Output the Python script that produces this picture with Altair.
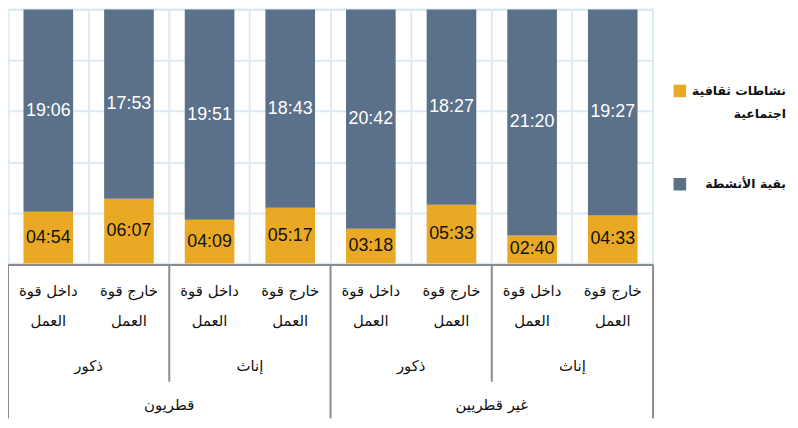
import altair as alt
import pandas as pd

# ---------------- data ----------------
nationality = ["قطريون", "غير قطريين"]
sexes = ["ذكور", "إناث"]
status = ["داخل قوة العمل", "خارج قوة العمل"]
status_lines = ["داخل قوة\nالعمل", "خارج قوة\nالعمل"]

series = ["نشاطات ثقافية اجتماعية", "بقية الأنشطة"]
legend_lines = ["نشاطات ثقافية\nاجتماعية", "بقية الأنشطة"]
colors = ["#E9A924", "#5B7089"]
text_colors = ["#111111", "#FFFFFF"]

cultural = ["04:54", "06:07", "04:09", "05:17", "03:18", "05:33", "02:40", "04:33"]
rest = ["19:06", "17:53", "19:51", "18:43", "20:42", "18:27", "21:20", "19:27"]

grid_values = [0, 288, 576, 864, 1152, 1440]


def to_min(s):
    h, m = s.split(":")
    return int(h) * 60 + int(m)


# ---------------- tables ----------------
cats, cat_nat, cat_sex, cat_status = [], [], [], []
for n in nationality:
    for s in sexes:
        for k, st in enumerate(status):
            cats.append(f"{n}|{s}|{st}")
            cat_nat.append(n)
            cat_sex.append(s)
            cat_status.append(status_lines[k])

rows = []
for i, c in enumerate(cats):
    for j, vals in enumerate([cultural, rest]):
        rows.append({"cat": c, "series": series[j], "order": j,
                     "minutes": to_min(vals[i]), "label": vals[i],
                     "tcolor": text_colors[j]})
df = pd.DataFrame(rows)

lab_df = pd.DataFrame({"cat": cats, "text": cat_status})
sex_df = pd.DataFrame({"cat": [cats[i] for i in range(0, 8, 2)],
                       "text": [cat_sex[i] for i in range(0, 8, 2)]})
nat_df = pd.DataFrame({"cat": [cats[i] for i in (1, 5)],
                       "text": [cat_nat[i] for i in (1, 5)]})
sep_short = pd.DataFrame({"cat": [cats[2], cats[6]]})
sep_long = pd.DataFrame({"cat": [cats[0], cats[4]]})
sep_end = pd.DataFrame({"cat": [cats[7]]})

W, H = 650, 256
AX = 257  # y of axis line (relative to plot top)

xscale = alt.Scale(domain=cats, paddingInner=0, paddingOuter=0)
yscale = alt.Scale(domain=[0, 1440], nice=False)

base = alt.Chart(df).transform_stack(
    stack="minutes", groupby=["cat"], sort=[alt.SortField("order")], as_=["y0", "y1"]
).transform_calculate(mid="(datum.y0 + datum.y1) / 2")

bars = base.mark_bar(size=50).encode(
    x=alt.X("cat:N", scale=xscale, sort=cats,
            axis=alt.Axis(title=None, labels=False, ticks=False, grid=True,
                          bandPosition=0, gridColor="#DCEBF3", gridWidth=2,
                          domain=True, domainColor="#8C8C8C", domainWidth=2,
                          offset=1)),
    y=alt.Y("y0:Q", scale=yscale,
            axis=alt.Axis(title=None, labels=False, ticks=False, domain=False,
                          grid=True, values=grid_values, gridColor="#DCEBF3",
                          gridWidth=2)),
    y2="y1:Q",
    color=alt.Color("series:N", scale=alt.Scale(domain=series, range=colors), legend=None),
)

vals = base.mark_text(font="Liberation Sans", fontSize=18, baseline="middle").encode(
    x=alt.X("cat:N", scale=xscale, sort=cats),
    y=alt.Y("mid:Q", scale=yscale),
    text="label:N",
    color=alt.Color("tcolor:N", scale=None),
)

arfont = "DejaVu Sans"
FS = 15

status_txt = alt.Chart(lab_df).mark_text(
    font=arfont, fontSize=FS, lineBreak="\n", lineHeight=30, baseline="middle", color="#111111"
).encode(x=alt.X("cat:N", scale=xscale, sort=cats), y=alt.value(284), text="text:N")

sex_txt = alt.Chart(sex_df).mark_text(
    font=arfont, fontSize=FS, baseline="middle", color="#111111"
).encode(x=alt.X("cat:N", scale=xscale, sort=cats, bandPosition=1), y=alt.value(359), text="text:N")

nat_txt = alt.Chart(nat_df).mark_text(
    font=arfont, fontSize=FS, baseline="middle", color="#111111"
).encode(x=alt.X("cat:N", scale=xscale, sort=cats, bandPosition=1), y=alt.value(398), text="text:N")

rule_kw = dict(color="#8C8C8C", strokeWidth=2)
r_short = alt.Chart(sep_short).mark_rule(**rule_kw).encode(
    x=alt.X("cat:N", scale=xscale, sort=cats, bandPosition=0), y=alt.value(AX), y2=alt.value(375))
r_long = alt.Chart(sep_long).mark_rule(**rule_kw).encode(
    x=alt.X("cat:N", scale=xscale, sort=cats, bandPosition=0), y=alt.value(AX), y2=alt.value(412))
r_end = alt.Chart(sep_end).mark_rule(**rule_kw).encode(
    x=alt.X("cat:N", scale=xscale, sort=cats, bandPosition=1), y=alt.value(AX), y2=alt.value(412))

# ---------------- legend ----------------
leg_layers = []
leg_y = [82, 176]
for i, name in enumerate(series):
    ldf = pd.DataFrame({"series": [name], "text": [legend_lines[i]]})
    sq = alt.Chart(ldf).mark_square(size=160, color=colors[i], opacity=1).encode(
        x=alt.value(677), y=alt.value(leg_y[i]))
    tx = alt.Chart(ldf).mark_text(
        font=arfont, fontSize=12.5, fontWeight="bold", align="right", baseline="middle",
        lineBreak="\n", lineHeight=23, color="#111111"
    ).encode(x=alt.value(784), y=alt.value(leg_y[i]), text="text:N")
    leg_layers += [sq, tx]

chart = alt.layer(
    bars, vals, status_txt, sex_txt, nat_txt, r_short, r_long, r_end, *leg_layers
).properties(
    width=W, height=H,
    autosize=alt.AutoSizeParams(type="none"),
    padding={"left": 0, "top": 0, "right": 138, "bottom": 156},
).configure_view(stroke="#DCEBF3", strokeWidth=2)

chart.save("out.html", embed_options={"renderer": "svg", "actions": False})
